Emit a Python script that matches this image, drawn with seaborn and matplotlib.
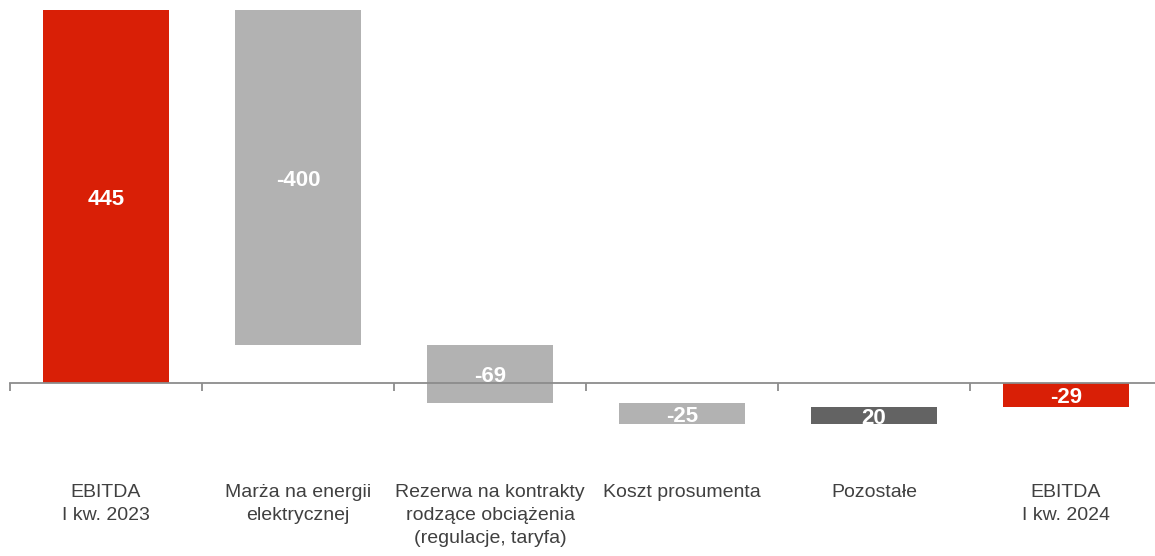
import matplotlib
matplotlib.use("Agg")
import matplotlib.pyplot as plt
from matplotlib import font_manager
import seaborn as sns
import numpy as np
import pandas as pd

# Bridge of EBITDA between Q1 2023 and Q1 2024
categories = [
    "EBITDA\nI kw. 2023",
    "Marża na energii\nelektrycznej",
    "Rezerwa na kontrakty\nrodzące obciążenia\n(regulacje, taryfa)",
    "Koszt prosumenta",
    "Pozostałe",
    "EBITDA\nI kw. 2024",
]
changes = [445, -400, -69, -25, 20, -29]
kinds = ["total", "step", "step", "step", "step", "total"]

sns.set_theme(style="white")

available = {f.name for f in font_manager.fontManager.ttflist}
narrow = "Liberation Sans Narrow" if "Liberation Sans Narrow" in available else "Liberation Sans"
plt.rcParams["font.family"] = [narrow, "DejaVu Sans"]

RED = "#d91f06"
LIGHT = "#b2b2b2"
DARK = "#636363"

# waterfall geometry derived from the values
bottoms, heights, colors = [], [], []
running = 0
for val, kind in zip(changes, kinds):
    if kind == "total":
        bottoms.append(0)
        heights.append(val)
        colors.append(RED)
        running = val
    else:
        bottoms.append(running)
        heights.append(val)
        colors.append(DARK if val > 0 else LIGHT)
        running += val

df = pd.DataFrame({"category": categories, "bottom": bottoms,
                   "height": heights, "top": np.array(bottoms) + np.array(heights)})

W, H = 1155, 556
fig = plt.figure(figsize=(W / 100, H / 100), dpi=100)
ax = fig.add_axes([10 / W, (H - 440) / H, 1152 / W, 440 / H])

sns.barplot(data=df, x="category", y="top", ax=ax, width=0.655,
            palette=colors, hue="category", legend=False,
            saturation=1, edgecolor="none")
# lift each bar to its running base
for patch, b, h in zip(ax.patches, bottoms, heights):
    patch.set_y(b)
    patch.set_height(h)

for i, (b, h, v) in enumerate(zip(bottoms, heights, changes)):
    ax.text(i, b + h / 2, f"{v}", ha="center", va="center_baseline", color="white",
            fontsize=16, fontweight="bold", zorder=5)

ax.set_xlim(-0.5, 5.5)
ax.set_ylim(-68, 457)
for s in ["top", "right", "left"]:
    ax.spines[s].set_visible(False)
ax.spines["bottom"].set_position(("data", 0))
ax.spines["bottom"].set_color("#8c8c8c")
ax.spines["bottom"].set_linewidth(1.3)
ax.spines["bottom"].set_zorder(4)
ax.set_yticks([])
ax.set_xlabel("")
ax.set_ylabel("")

# boundary tick marks between categories, labels drawn separately below
ax.set_xticks([])
ax.set_xticks(np.arange(-0.5, 5.6, 1.0), minor=True)
ax.tick_params(axis="x", which="minor", bottom=True, length=6, width=1.3,
               color="#8c8c8c", direction="out", labelbottom=False)

for i, c in enumerate(categories):
    ax.text(i, -121, c, ha="center", va="top", fontsize=14, color="#404040",
            linespacing=1.45, clip_on=False)

fig.savefig("out.png", dpi=100)
